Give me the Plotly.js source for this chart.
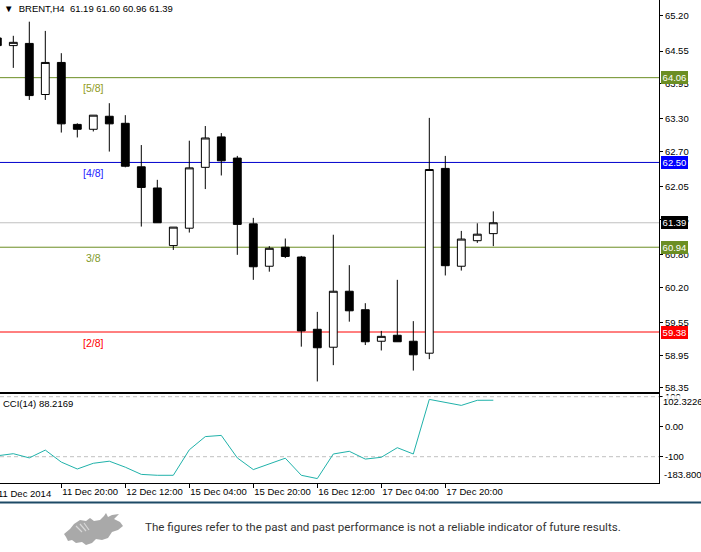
<!DOCTYPE html>
<html>
<head>
<meta charset="utf-8">
<script src="https://cdn.plot.ly/plotly-3.0.1.min.js"></script>
<style>
  html, body { margin: 0; padding: 0; background: #fff; }
  #wrap { position: relative; width: 701px; height: 552px; }
  #chart { width: 701px; height: 552px; }
  #logo { position: absolute; left: 62px; top: 512px; }
</style>
</head>
<body>
<div id="wrap">
<div id="chart"></div>
<svg id="logo" width="64" height="36" viewBox="0 0 64 36">
  <path d="M2,22 L8,17 L12,12 L18,8 L24,9 L28,6 L32,9 L38,8 L42,4 L44,1 L46,5 L50,3 L57,2 L52,7 L58,10 L61,14 L56,18 L50,20 L46,26 L40,28 L34,27 L30,31 L24,33 L20,30 L14,31 L10,28 L6,29 L4,25 Z" fill="#a9a9a9"/>
  <path d="M14,14 L20,20 M18,12 L24,19 M22,11 L27,18" stroke="#d8d8d8" stroke-width="1.2" fill="none"/>
</svg>
</div>
<script>
// ---- data ----
const opens  = [64.79,64.65,64.69,63.75,64.34,63.20,63.11,63.35,63.22,62.42,62.03,60.97,61.29,62.41,62.97,62.58,61.37,60.59,60.94,60.76,59.43,59.10,60.13,59.79,59.21,59.32,59.21,58.99,62.39,60.59,61.06,61.19];
const highs  = [64.87,64.83,65.09,64.92,64.51,63.22,63.37,63.59,63.37,62.82,62.18,61.31,62.90,63.17,63.04,62.62,61.48,60.96,61.10,60.78,59.75,61.17,60.61,59.91,59.40,60.34,59.58,63.32,62.62,61.24,61.38,61.60];
const lows   = [64.60,64.24,63.65,63.65,63.05,62.96,63.07,62.70,62.41,61.32,61.39,60.89,61.21,62.01,62.26,60.80,60.34,60.49,60.74,59.11,58.47,58.77,59.57,59.14,59.04,59.20,58.67,58.88,60.42,60.51,61.02,60.96];
const closes = [64.65,64.71,63.73,64.34,63.21,63.11,63.37,63.21,62.43,62.04,61.39,61.31,62.40,62.95,62.53,61.36,60.58,60.92,60.77,59.40,59.09,60.13,59.77,59.20,59.30,59.20,58.96,62.37,60.60,61.09,61.18,61.39];
const cci    = [-97,-90,-104,-78,-118,-141,-122,-115,-135,-159,-162,-162,-77,-33,-29,-104,-143,-124,-105,-162,-173,-91,-82,-108,-102,-70,-91,91,82,71,88,88.2169];

const timeIdx    = [0,4,8,12,16,20,24,28];
const timeLabels = ["11 Dec 2014","11 Dec 20:00","12 Dec 12:00","15 Dec 04:00","15 Dec 20:00","16 Dec 12:00","17 Dec 04:00","17 Dec 20:00"];

const priceTicks = [65.20,64.55,63.95,63.30,62.70,62.05,61.45,60.80,60.20,59.55,58.95,58.35];

const levelValues = [65.62,64.06,62.50,60.94,59.38];
const levelLabels = ["[6/8]","[5/8]","[4/8]","3/8","[2/8]"];
const levelTextColors = ["#ff0000","#8f9a22","#2222ff","#7f9a2a","#ff0000"];
const levelLineColors = ["#ff0000","#6b8e23","#0000cd","#6b8e23","#ff0000"];

const boxValues = [64.06,62.50,61.39,60.94,59.38];
const boxColors = ["#6b8e23","#0000ff","#000000","#6b8e23","#ff0000"];
const bidValue = 61.39;

const cciTicks = [100,0,-100];
const cciTickText = ["100","0.00","-100"];
const cciMax = 102.3226, cciMin = -183.8;
const cciLast = 88.2169;

const symbol = "BRENT,H4";
const lastOHLC = [61.19,61.60,60.96,61.39];

// ---- build ----
const idx = opens.map((_, i) => i);
const labelBar = 6;
const FONT = "Liberation Sans, Arial, sans-serif";

const traces = [
  {
    type: "candlestick", x: idx, open: opens, high: highs, low: lows, close: closes,
    xaxis: "x", yaxis: "y",
    increasing: { line: { color: "#000", width: 1 }, fillcolor: "#ffffff" },
    decreasing: { line: { color: "#000", width: 1 }, fillcolor: "#000000" },
    whiskerwidth: 0, hoverinfo: "none", showlegend: false
  },
  {
    type: "scatter", mode: "markers+text", x: levelValues.map(() => labelBar), y: levelValues,
    marker: { size: 9, color: "rgba(0,0,0,0)" },
    text: levelLabels, textposition: "bottom center",
    textfont: { family: FONT, size: 10.5, color: levelTextColors },
    cliponaxis: false, xaxis: "x", yaxis: "y", hoverinfo: "none", showlegend: false
  },
  {
    type: "scatter", mode: "lines", x: idx, y: cci, xaxis: "x2", yaxis: "y2",
    line: { color: "#20b2aa", width: 1 }, hoverinfo: "none", showlegend: false
  }
];

const shapes = [];
levelValues.forEach((v, i) => {
  shapes.push({ type: "line", xref: "paper", x0: 0, x1: 1, yref: "y", y0: v, y1: v,
    line: { color: levelLineColors[i], width: 1 }, layer: "below" });
});
shapes.push({ type: "line", xref: "paper", x0: 0, x1: 1, yref: "y", y0: bidValue, y1: bidValue,
  line: { color: "#c0c0c0", width: 1 }, layer: "below" });
[100, -100].forEach(v => {
  shapes.push({ type: "line", xref: "paper", x0: 0, x1: 1, yref: "y2", y0: v, y1: v,
    line: { color: "#c0c0c0", width: 1, dash: "4px,3px" }, layer: "below" });
});
// footer separator
shapes.push({ type: "line", xref: "paper", x0: -0.01, x1: 1.07, yref: "paper", y0: -0.0404, y1: -0.0404,
  line: { color: "#1d4a66", width: 2 } });

const annotations = [];
annotations.push({
  xref: "paper", yref: "paper", x: 0, y: 1, xanchor: "left", yanchor: "top", xshift: 2, yshift: -1,
  text: "\u25BC  " + symbol + "  " + lastOHLC.map(v => v.toFixed(2)).join(" "),
  showarrow: false, font: { family: FONT, size: 9.5, color: "#000" }
});
boxValues.forEach((v, i) => {
  annotations.push({
    xref: "paper", yref: "y", x: 1, y: v, xanchor: "left", yanchor: "middle", xshift: 2,
    text: v.toFixed(2), showarrow: false, bgcolor: boxColors[i], borderpad: 1, borderwidth: 0,
    width: 25, font: { family: FONT, size: 9.5, color: "#ffffff" }
  });
});
annotations.push({
  xref: "paper", yref: "paper", x: 0, y: 0.18427, xanchor: "left", yanchor: "top", xshift: 1, yshift: -2,
  text: "CCI(14) " + cciLast.toFixed(4), showarrow: false, font: { family: FONT, size: 9.5, color: "#000" }
});
annotations.push({
  xref: "paper", yref: "y2", x: 1, y: cciMax, xanchor: "left", yanchor: "top", xshift: 3, yshift: 1,
  text: cciMax.toFixed(4), showarrow: false, bgcolor: "rgba(255,255,255,0.85)", borderpad: 0,
  font: { family: FONT, size: 9.5, color: "#000" }
});
annotations.push({
  xref: "paper", yref: "y2", x: 1, y: cciMin, xanchor: "left", yanchor: "bottom", xshift: 3, yshift: 0,
  text: cciMin.toFixed(3), showarrow: false, font: { family: FONT, size: 9.5, color: "#000" }
});
annotations.push({
  xref: "paper", yref: "paper", x: 0, y: 0, xanchor: "left", yanchor: "top", xshift: -4, yshift: -3,
  text: timeLabels[0], showarrow: false, font: { family: FONT, size: 9.5, color: "#000" }
});
annotations.push({
  xref: "paper", yref: "paper", x: 0.217, y: -0.0911, xanchor: "left", yanchor: "middle",
  text: "The figures refer to the past and past performance is not a reliable indicator of future results.",
  showarrow: false, font: { family: "Roboto, sans-serif", size: 11.6, color: "#333" }
});

const layout = {
  width: 701, height: 552,
  margin: { l: 0, r: 42, t: 0, b: 69 },
  paper_bgcolor: "#ffffff", plot_bgcolor: "#ffffff",
  showlegend: false,
  font: { family: FONT, size: 9.5, color: "#000" },
  xaxis: {
    domain: [0, 1], anchor: "y", range: [0.169, 41.356],
    showline: true, linecolor: "#000", linewidth: 1, ticks: "", showticklabels: false,
    showgrid: false, zeroline: false, rangeslider: { visible: false }, fixedrange: true
  },
  xaxis2: {
    domain: [0, 1], anchor: "y2", matches: "x", range: [0.169, 41.356],
    showline: true, mirror: true, linecolor: "#000", linewidth: 1,
    ticks: "outside", ticklen: 4, tickcolor: "#000", tickvals: timeIdx, ticktext: timeLabels,
    ticklabelposition: "outside right", tickangle: 0,
    tickfont: { family: FONT, size: 9.5, color: "#000" },
    showgrid: false, zeroline: false, fixedrange: true
  },
  yaxis: {
    domain: [0.18841, 1], anchor: "x", side: "right", range: [58.276, 65.489],
    tickvals: priceTicks, ticktext: priceTicks.map(v => v.toFixed(2)),
    ticks: "outside", ticklen: 3, tickcolor: "#000",
    showline: true, linecolor: "#000", linewidth: 1, showgrid: false, zeroline: false,
    tickfont: { family: FONT, size: 9.5, color: "#000" }, fixedrange: true
  },
  yaxis2: {
    domain: [0, 0.18427], anchor: "x2", side: "right", range: [-187.7, 109],
    tickvals: cciTicks, ticktext: cciTickText,
    ticks: "outside", ticklen: 3, tickcolor: "#000",
    showline: true, linecolor: "#000", linewidth: 1, showgrid: false, zeroline: false,
    tickfont: { family: FONT, size: 9.5, color: "#000" }, fixedrange: true
  },
  shapes: shapes,
  annotations: annotations
};

Plotly.newPlot("chart", traces, layout, { staticPlot: true, displayModeBar: false });
</script>
</body>
</html>
